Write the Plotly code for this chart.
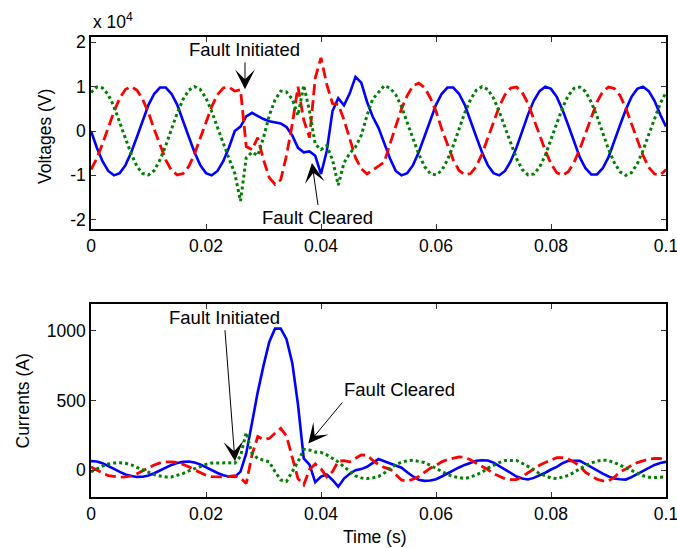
import plotly.graph_objects as go

# ---------------- data ----------------
time_ms = list(range(0, 101))
time_s = [m / 1000 for m in time_ms]

# Voltages in units of 1e4 V
voltage_a = [0.00, -0.37, -0.68, -0.90, -1.00, -0.95, -0.77, -0.48, -0.13, 0.25,
             0.59, 0.84, 0.98, 0.98, 0.84, 0.59, 0.25, -0.13, -0.48, -0.77,
             -0.95, -1.00, -0.90, -0.68, -0.37, 0.00, 0.10, 0.33, 0.41, 0.33,
             0.27, 0.22, 0.19, 0.17, 0.09, -0.10, -0.38, -0.48, -0.46, -0.56,
             -0.97, -0.45, 0.45, 0.74, 0.58, 0.85, 1.22, 1.09, 0.66, 0.32,
             0.07, -0.30, -0.62, -0.90, -1.00, -0.95, -0.77, -0.48, -0.13, 0.25,
             0.59, 0.84, 0.98, 0.98, 0.84, 0.59, 0.25, -0.13, -0.48, -0.77,
             -0.95, -1.00, -0.90, -0.68, -0.37, 0.00, 0.37, 0.68, 0.90, 1.00,
             0.95, 0.77, 0.48, 0.13, -0.25, -0.59, -0.84, -0.98, -0.98, -0.84,
             -0.59, -0.25, 0.13, 0.48, 0.77, 0.95, 1.00, 0.90, 0.68, 0.37,
             0.10]
voltage_b = [-0.87, -0.62, -0.29, 0.08, 0.44, 0.74, 0.94, 1.00, 0.92, 0.71,
             0.41, 0.04, -0.33, -0.65, -0.89, -0.99, -0.96, -0.80, -0.52, -0.17,
             0.21, 0.55, 0.82, 0.97, 0.99, 0.90, 0.93, -0.35, -0.42, -0.15,
             -0.65, -1.05, -1.20, -1.10, -0.55, 0.15, 1.00, 0.25, -0.15, 1.20,
             1.65, 1.05, 0.62, 0.60, 0.25, -0.15, -0.60, -0.85, -0.97, -0.88,
             -0.80, -0.70, -0.29, 0.10, 0.50, 0.80, 1.02, 1.08, 0.98, 0.75,
             0.45, 0.04, -0.33, -0.65, -0.89, -0.99, -0.96, -0.80, -0.52, -0.17,
             0.21, 0.55, 0.82, 0.97, 0.99, 0.87, 0.62, 0.29, -0.08, -0.44,
             -0.74, -0.94, -1.00, -0.92, -0.71, -0.41, -0.04, 0.33, 0.65, 0.89,
             0.99, 0.96, 0.80, 0.52, 0.17, -0.21, -0.55, -0.82, -0.97, -0.99,
             -0.87]
voltage_c = [0.87, 0.99, 0.97, 0.82, 0.55, 0.21, -0.17, -0.52, -0.80, -0.96,
             -0.99, -0.89, -0.65, -0.33, 0.04, 0.41, 0.71, 0.92, 1.00, 0.94,
             0.74, 0.44, 0.08, -0.29, -0.62, -0.95, -1.58, -0.60, -0.48, -0.55,
             -0.15, 0.35, 0.70, 0.90, 0.88, 0.72, 0.35, 1.03, 0.45, -0.30,
             -0.42, -0.33, -0.65, -1.22, -0.72, -0.50, -0.36, -0.10, 0.35, 0.72,
             0.87, 1.02, 0.97, 0.82, 0.55, 0.21, -0.17, -0.52, -0.80, -0.96,
             -0.99, -0.89, -0.65, -0.33, 0.04, 0.41, 0.71, 0.92, 1.00, 0.94,
             0.74, 0.44, 0.08, -0.29, -0.62, -0.87, -0.99, -0.97, -0.82, -0.55,
             -0.21, 0.17, 0.52, 0.80, 0.96, 0.99, 0.89, 0.65, 0.33, -0.04,
             -0.41, -0.71, -0.92, -1.00, -0.94, -0.74, -0.44, -0.08, 0.29, 0.62,
             0.87]

# Currents in A
current_a = [65, 62, 50, 32, 10, -12, -30, -42, -48, -47,
             -38, -22, -2, 20, 38, 52, 60, 62, 55, 42,
             20, 0, -20, -36, -45, -48, -10, 120, 340, 560,
             750, 920, 1015, 1015, 940, 770, 470, 85, 40, -85,
             -45, -30, -70, -118, -60, -25, 0, 8, 25, 50,
             80, 65, 50, 35, 18, -15, -45, -68, -76, -74,
             -65, -45, -22, -2, 20, 38, 55, 68, 72, 70,
             55, 30, 0, -25, -45, -60, -66, -55, -38, -18,
             5, 24, 50, 67, 68, 67, 45, 20, -5, -24,
             -45, -60, -65, -67, -50, -28, -5, 20, 38, 52,
             60]
current_b = [24, 0, -20, -38, -46, -50, -48, -40, -25, -5,
             18, 38, 52, 60, 60, 55, 42, 25, 2, -20,
             -36, -46, -48, -48, -45, -40, -55, -95, 110, 242,
             220, 228, 265, 300, 245, 90, -60, -105, 5, 45,
             10, -48, -10, 65, 68, 60, 85, 110, 108, 70,
             40, 20, 8, -30, -70, -78, -65, -45, -15, 15,
             35, 60, 77, 88, 95, 92, 75, 50, 28, 5,
             -25, -45, -62, -67, -67, -45, -18, 5, 35, 55,
             75, 90, 90, 80, 58, 30, -15, -40, -65, -77,
             -77, -50, -12, 8, 35, 55, 68, 80, 84, 84,
             72]
current_c = [-12, 10, 30, 45, 52, 53, 50, 38, 20, 0,
             -18, -32, -42, -48, -48, -36, -24, -5, 12, 29,
             42, 52, 53, 53, 53, 50, 100, 270, 120, 84,
             72, 60, -10, -70, -80, -15, 60, 150, 145, 130,
             128, 110, 85, 60, 25, -10, -40, -55, -60, -55,
             -45, -20, 10, 40, 58, 68, 72, 65, 55, 35,
             12, -10, -30, -45, -55, -60, -50, -35, -15, 15,
             36, 55, 70, 72, 70, 50, 28, 5, -25, -40,
             -55, -60, -50, -38, -15, 10, 35, 52, 65, 72,
             70, 55, 35, 15, -5, -25, -40, -50, -53, -50,
             -48]

x_ticks = [0, 0.02, 0.04, 0.06, 0.08, 0.1]
x_tick_labels = ["0", "0.02", "0.04", "0.06", "0.08", "0.1"]
v_ticks = [-2, -1, 0, 1, 2]
v_tick_labels = ["-2", "-1", "0", "1", "2"]
i_ticks = [0, 500, 1000]
i_tick_labels = ["0", "500", "1000"]

# ---------------- figure ----------------
FONT = "Liberation Sans, Arial, sans-serif"
BLUE = "#0000FF"
RED = "#FF0000"
GREEN = "#008000"

fig = go.Figure()

styles = [
    (BLUE, 2.6, "solid"),
    (RED, 2.8, "11px,5px"),
    (GREEN, 3.0, "3px,3px"),
]
for series, (col, w, dash) in zip([voltage_a, voltage_b, voltage_c], styles):
    fig.add_trace(go.Scatter(x=time_s, y=series, mode="lines",
                             line=dict(color=col, width=w, dash=dash),
                             xaxis="x", yaxis="y", showlegend=False,
                             hoverinfo="skip"))
for series, (col, w, dash) in zip([current_a, current_b, current_c], styles):
    fig.add_trace(go.Scatter(x=time_s, y=series, mode="lines",
                             line=dict(color=col, width=w, dash=dash),
                             xaxis="x2", yaxis="y2", showlegend=False,
                             hoverinfo="skip"))

axis_common = dict(
    showgrid=False, zeroline=False, showline=True, linecolor="black",
    linewidth=1.5, mirror="ticks", ticks="inside", ticklen=5,
    tickcolor="#333333", tickwidth=1, automargin=False,
    ticklabeloverflow="allow",
    tickfont=dict(family=FONT, size=17.5, color="black"),
)

fig.update_layout(
    width=677, height=548,
    margin=dict(l=91, r=11, t=37, b=51),
    paper_bgcolor="white", plot_bgcolor="white",
    font=dict(family=FONT, color="black"),
    xaxis=dict(domain=[0, 1], anchor="y", range=[0, 0.1],
               tickvals=x_ticks, ticktext=x_tick_labels, **axis_common),
    yaxis=dict(domain=[0.5826, 1], anchor="x", range=[-2.21, 2.12],
               tickvals=v_ticks, ticktext=v_tick_labels, **axis_common),
    xaxis2=dict(domain=[0, 1], anchor="y2", range=[0, 0.1],
                tickvals=x_ticks, ticktext=x_tick_labels, **axis_common),
    yaxis2=dict(domain=[0, 0.4196], anchor="x2", range=[-192, 1192],
                tickvals=i_ticks, ticktext=i_tick_labels, **axis_common),
)

ann_font = dict(family=FONT, size=18.5, color="black")
arrow_style = dict(showarrow=True, arrowhead=3, arrowsize=3.3, arrowwidth=1,
                   arrowcolor="black", font=ann_font)

annotations = [
    dict(text="Fault Initiated", x=0.02678, y=0.94, xref="x", yref="y",
         ax=0, ay=-27, xanchor="center", yanchor="bottom", **arrow_style),
    dict(text="Fault Cleared", x=0.03843, y=-0.72, xref="x", yref="y",
         ax=6, ay=42, xanchor="center", yanchor="top", **arrow_style),
    dict(text="Fault Initiated", x=0.02504, y=65, xref="x2", yref="y2",
         ax=-10, ay=-131, xanchor="center", yanchor="bottom", **arrow_style),
    dict(text="Fault Cleared", x=0.0378, y=192, xref="x2", yref="y2",
         ax=34, ay=-41, xanchor="left", yanchor="bottom", **arrow_style),
    dict(text="x 10<sup>4</sup>", x=0, y=1 + 3 / 460, xref="paper", yref="paper",
         xanchor="left", yanchor="bottom", showarrow=False,
         font=dict(family=FONT, size=17.5, color="black")),
    dict(text="Voltages (V)", x=(45 - 91) / 575, y=(497 - 137) / 460,
         xref="paper", yref="paper", textangle=-90, showarrow=False,
         xanchor="center", yanchor="middle",
         font=dict(family=FONT, size=17.5, color="black")),
    dict(text="Currents (A)", x=(22.5 - 91) / 575, y=(497 - 401) / 460,
         xref="paper", yref="paper", textangle=-90, showarrow=False,
         xanchor="center", yanchor="middle",
         font=dict(family=FONT, size=17.5, color="black")),
    dict(text="Time (s)", x=(375 - 91) / 575, y=(497 - 537) / 460,
         xref="paper", yref="paper", showarrow=False,
         xanchor="center", yanchor="middle",
         font=dict(family=FONT, size=17.5, color="black")),
]
fig.update_layout(annotations=annotations)

fig.write_html("out.html",
               config={"displayModeBar": False},
               post_script="document.body.style.margin='0';"
                           "document.body.style.overflow='hidden';")
